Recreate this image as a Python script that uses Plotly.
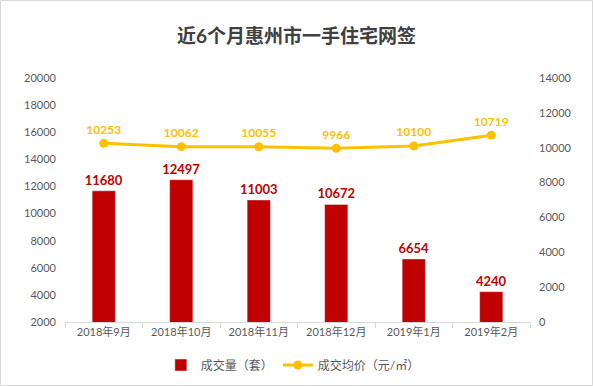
import plotly.graph_objects as go

categories = ["2018年9月", "2018年10月", "2018年11月", "2018年12月", "2019年1月", "2019年2月"]
volume = [11680, 12497, 11003, 10672, 6654, 4240]
price = [10253, 10062, 10055, 9966, 10100, 10719]
left_ticks = [2000, 4000, 6000, 8000, 10000, 12000, 14000, 16000, 18000, 20000]
right_ticks = [0, 2000, 4000, 6000, 8000, 10000, 12000, 14000]

FONT = "Lato, 'Noto Sans CJK SC', sans-serif"

fig = go.Figure()
fig.add_trace(go.Bar(
    x=categories, y=volume, name="成交量（套）",
    marker=dict(color="#C00000"),
    text=[str(v) for v in volume], textposition="outside",
    constraintext="none",
    textfont=dict(color="#C00000", size=13, family=FONT, weight="bold"),
    cliponaxis=False, yaxis="y",
))
fig.add_trace(go.Scatter(
    x=categories, y=price, name="成交均价（元/㎡）",
    mode="lines+markers+text",
    line=dict(color="#FFC000", width=3),
    marker=dict(color="#FFC000", size=9),
    text=[str(v) for v in price], textposition="top center",
    textfont=dict(color="#FFC000", size=12, family=FONT, weight="bold"),
    cliponaxis=False, yaxis="y2",
))

w, h = 593, 386
ml, mr, mt, mb = 65, 63, 78, 64
pw = w - ml - mr
ph = h - mt - mb

fig.update_layout(
    width=w, height=h,
    margin=dict(l=ml, r=mr, t=mt, b=mb, autoexpand=False),
    paper_bgcolor="white", plot_bgcolor="white",
    font=dict(family=FONT, color="#595959", size=11),
    title=dict(text="<b>近6个月惠州市一手住宅网签</b>", x=0.5, xanchor="center",
               y=1 - 36 / h, yanchor="middle",
               font=dict(size=19, color="#404040", family=FONT)),
    bargap=0.70,
    showlegend=True,
    legend=dict(orientation="h", x=0.49, xanchor="center", y=-(365 - 322) / ph, yanchor="middle",
                font=dict(size=12, color="#595959", family=FONT),
                itemwidth=30, traceorder="normal"),
    xaxis=dict(type="category", showline=True, linecolor="#D9D9D9", linewidth=1,
               ticks="outside", tickson="boundaries", ticklen=5, tickcolor="#D9D9D9",
               showgrid=False, tickfont=dict(size=11, color="#595959")),
    yaxis=dict(range=[2000, 20000], tickvals=left_ticks, ticktext=[str(t) for t in left_ticks],
               showgrid=False, zeroline=False,
               showline=False, ticks="", tickfont=dict(size=11, color="#595959"),
               ticklabelstandoff=8),
    yaxis2=dict(range=[0, 14000], tickvals=right_ticks, ticktext=[str(t) for t in right_ticks],
                overlaying="y", side="right",
                showgrid=False, zeroline=False, showline=False, ticks="",
                tickfont=dict(size=11, color="#595959"), ticklabelstandoff=8),
    shapes=[dict(type="rect", xref="paper", yref="paper",
                 x0=-ml / pw + 0.5 / pw, x1=(w - ml - 0.5) / pw,
                 y0=-(mb - 0.5) / ph, y1=(h - mb - 0.5) / ph,
                 line=dict(color="#D9D9D9", width=1), layer="below")],
)

fig.write_html("out.html", config={"displayModeBar": False},
               post_script="document.body.style.margin='0';document.body.style.overflow='hidden';")
